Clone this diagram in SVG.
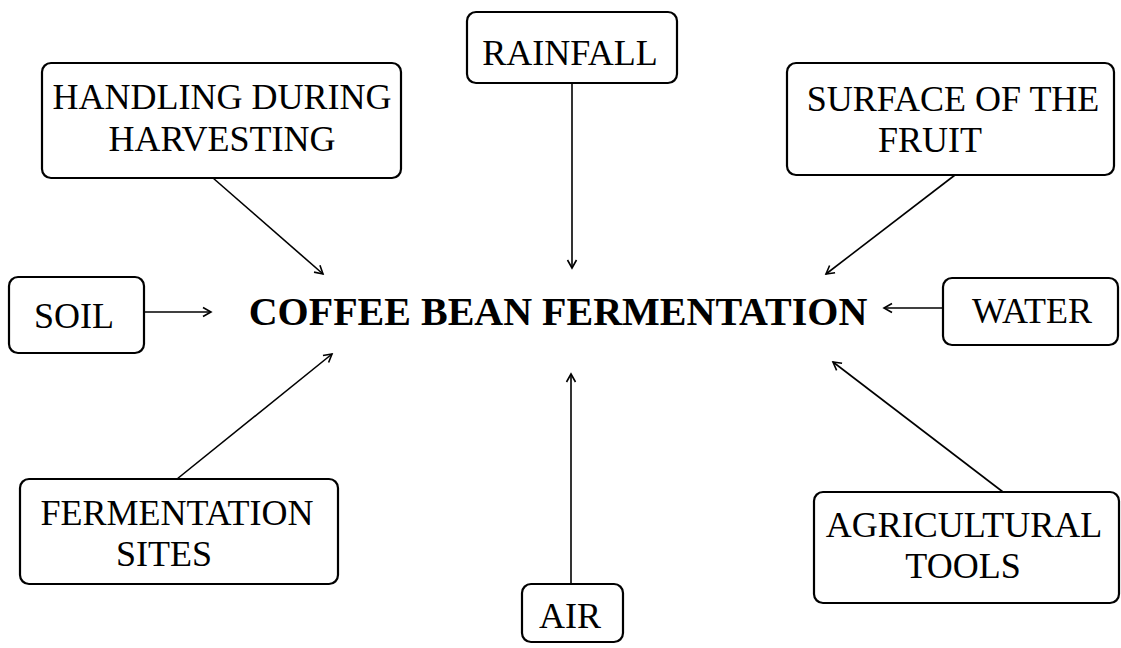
<svg xmlns="http://www.w3.org/2000/svg" width="1121" height="648" viewBox="0 0 1121 648">
<style>
  .box { fill: #ffffff; stroke: #000000; stroke-width: 2.2; }
  .lbl { font-family: "Liberation Serif", "Times New Roman", serif; font-size: 36px; fill: #000000; text-anchor: middle; }
  .title { font-family: "Liberation Serif", "Times New Roman", serif; font-size: 40px; font-weight: bold; fill: #000000; text-anchor: middle; }
  .conn { stroke: #000000; stroke-width: 1.6; fill: none; marker-end: url(#arr); }
</style>
<defs>
  <marker id="arr" markerUnits="userSpaceOnUse" markerWidth="14" markerHeight="14" refX="10" refY="6" orient="auto">
    <path d="M2,1.5 L10,6 L2,10.5" fill="none" stroke="#000000" stroke-width="1.6"/>
  </marker>
</defs>
<rect width="1121" height="648" fill="#ffffff"/>
<g id="connectors">
  <line class="conn" x1="213" y1="178" x2="323" y2="274"/>
  <line class="conn" x1="572" y1="83" x2="572" y2="268"/>
  <line class="conn" x1="955" y1="175" x2="826" y2="274"/>
  <line class="conn" x1="144" y1="312" x2="211" y2="312"/>
  <line class="conn" x1="943" y1="308" x2="884" y2="308"/>
  <line class="conn" x1="177" y1="479" x2="332" y2="354"/>
  <line class="conn" x1="571" y1="584" x2="571" y2="374"/>
  <line class="conn" x1="1003" y1="492" x2="833" y2="362"/>
</g>
<g id="center">
  <text class="title" x="558" y="325">COFFEE BEAN FERMENTATION</text>
</g>
<g id="handling">
  <rect class="box" x="42" y="63" width="359" height="115" rx="9"/>
  <text class="lbl" x="222" y="109">HANDLING DURING</text>
  <text class="lbl" x="222" y="151">HARVESTING</text>
</g>
<g id="rainfall">
  <rect class="box" x="467" y="12" width="210" height="71" rx="9"/>
  <text class="lbl" x="570" y="65">RAINFALL</text>
</g>
<g id="surface">
  <rect class="box" x="787" y="63" width="327" height="112" rx="9"/>
  <text class="lbl" x="953" y="111">SURFACE OF THE</text>
  <text class="lbl" x="930" y="152">FRUIT</text>
</g>
<g id="soil">
  <rect class="box" x="9" y="277" width="135" height="76" rx="9"/>
  <text class="lbl" x="74" y="328">SOIL</text>
</g>
<g id="water">
  <rect class="box" x="943" y="278" width="175" height="67" rx="9"/>
  <text class="lbl" x="1032" y="323">WATER</text>
</g>
<g id="fermentation-sites">
  <rect class="box" x="20" y="479" width="318" height="105" rx="9"/>
  <text class="lbl" x="177" y="525">FERMENTATION</text>
  <text class="lbl" x="164" y="566">SITES</text>
</g>
<g id="air">
  <rect class="box" x="522" y="584" width="101" height="58" rx="9"/>
  <text class="lbl" x="570" y="628">AIR</text>
</g>
<g id="agricultural-tools">
  <rect class="box" x="814" y="492" width="305" height="111" rx="9"/>
  <text class="lbl" x="964" y="537">AGRICULTURAL</text>
  <text class="lbl" x="963" y="578">TOOLS</text>
</g>
</svg>
